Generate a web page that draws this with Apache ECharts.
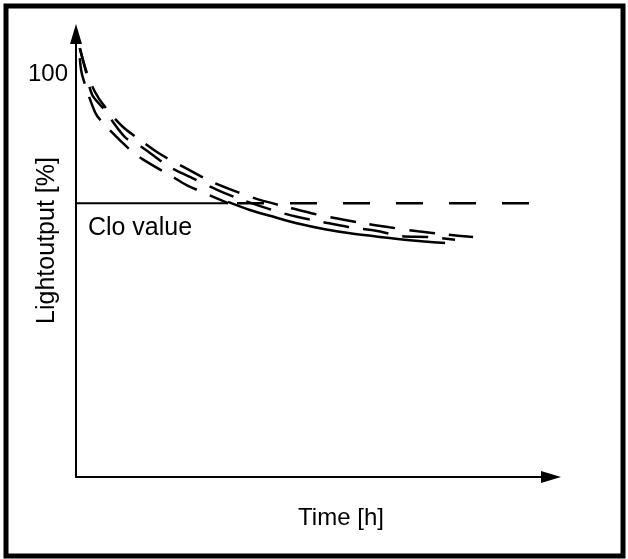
<!DOCTYPE html>
<html>
<head>
<meta charset="utf-8">
<script src="https://cdn.jsdelivr.net/npm/echarts@6/dist/echarts.min.js"></script>
<style>
  html, body { margin: 0; padding: 0; background: #fff; }
  #chart { width: 628px; height: 559px; }
</style>
</head>
<body>
<div id="chart"></div>
<script>
// schematic curves (x: time, 0..100 ; y: light output %)
const upperX = [0.8, 2.1, 4, 6.1, 9.9, 13.5, 17.7, 23.4, 28.2, 33.9, 38.7, 44.6, 50.3, 55, 60, 66, 72, 78, 83.6]
const upperY = [106.5, 101, 95.6, 91.9, 86.9, 83.7, 80.2, 76.5, 73.5, 70.8, 68.8, 67, 65.3, 64.2, 63.1, 62, 61, 60.2, 59.6]

const middleX = [0.8, 1.9, 3.4, 5.7, 10.3, 13.9, 19.4, 24, 29.7, 34.5, 41.3, 46.5, 52, 57.3, 63.4, 68.6, 74.1, 79.8]
const middleY = [106.5, 101.6, 94.9, 91.6, 84.4, 81.9, 77.2, 74.5, 71.3, 69, 66.3, 64.6, 63.3, 62.1, 61.1, 59.8, 59.6, 58.9]

const lowerX = [0.8, 1.3, 4, 5.7, 11.6, 13.9, 21.1, 23.6, 32]
const lowerY = [104, 99.8, 90.6, 87.9, 81, 79, 74, 72.3, 68]

const cloX = [0, 32]
const cloY = [68, 68]
const flatX = [32, 100.9]
const flatY = [68, 68]

const solidX = [32, 36.6, 41.9, 47.2, 52.4, 57.7, 64, 70.3, 77.7]
const solidY = [68.3, 66.3, 64.5, 62.8, 61.5, 60.5, 59.6, 58.8, 58.1]

const yTickLabels = ['100']
const xName = 'Time [h]'
const yName = 'Lightoutput [%]'
const cloLabel = 'Clo value'
const cloLabelAt = [2.5, 61.8]

const zip = (xs, ys) => xs.map((x, i) => [x, ys[i]])

const font = 'Liberation Sans'
const fs = 24
const dashed = {
  type: 'line',
  showSymbol: false,
  smooth: 0.3,
  clip: false,
  lineStyle: {color: '#000', width: 2.5, type: [26, 14]}
}

let chart = echarts.init(document.getElementById('chart'))
let option = {
  animation: false,
  backgroundColor: '#fff',
  textStyle: {fontFamily: font},
  grid: {left: 76, right: 77, top: 34, bottom: 82, outerBoundsMode: 'none'},
  graphic: [{
    type: 'rect',
    shape: {x: 6, y: 6, width: 617, height: 550},
    style: {fill: 'none', stroke: '#000', lineWidth: 5}
  }],
  xAxis: {
    type: 'value',
    min: 0,
    max: 100,
    name: xName,
    nameLocation: 'middle',
    nameGap: 29,
    nameMoveOverlap: false,
    nameTextStyle: {fontSize: fs, color: '#000', fontFamily: font, padding: [0, 0, 0, 55]},
    axisLine: {
      show: true,
      symbol: ['none', 'triangle'],
      symbolSize: [12, 20],
      lineStyle: {color: '#000', width: 2}
    },
    axisTick: {show: false},
    axisLabel: {show: false},
    splitLine: {show: false}
  },
  yAxis: {
    type: 'value',
    min: 0,
    max: 110,
    interval: 100,
    name: yName,
    nameLocation: 'middle',
    nameGap: 16,
    nameMoveOverlap: false,
    nameTextStyle: {fontSize: 25, color: '#000', fontFamily: font, padding: [0, 0, 0, 30]},
    axisLine: {
      show: true,
      symbol: ['none', 'triangle'],
      symbolSize: [12, 20],
      lineStyle: {color: '#000', width: 2}
    },
    axisTick: {show: false},
    axisLabel: {
      fontSize: fs,
      color: '#000',
      fontFamily: font,
      margin: 8,
      formatter: v => (v === 100 ? yTickLabels[0] : '')
    },
    splitLine: {show: false}
  },
  series: [
    Object.assign({}, dashed, {name: 'upper', data: zip(upperX, upperY)}),
    Object.assign({}, dashed, {name: 'middle', data: zip(middleX, middleY)}),
    Object.assign({}, dashed, {name: 'lower', data: zip(lowerX, lowerY)}),
    {
      name: 'clo',
      type: 'line',
      showSymbol: false,
      data: zip(cloX, cloY),
      lineStyle: {color: '#000', width: 2},
      markPoint: {
        symbol: 'circle',
        symbolSize: 0,
        itemStyle: {color: '#000'},
        label: {
          show: true,
          position: 'right',
          distance: 0,
          formatter: cloLabel,
          fontSize: 25,
          color: '#000',
          fontFamily: font
        },
        data: [{coord: cloLabelAt}]
      }
    },
    {
      name: 'flat',
      type: 'line',
      showSymbol: false,
      clip: false,
      data: zip(flatX, flatY),
      lineStyle: {color: '#000', width: 2.5, type: [27, 26], dashOffset: 44}
    },
    {
      name: 'solid',
      type: 'line',
      showSymbol: false,
      smooth: 0.3,
      data: zip(solidX, solidY),
      lineStyle: {color: '#000', width: 2.5}
    }
  ]
}
chart.setOption(option)
</script>
</body>
</html>
